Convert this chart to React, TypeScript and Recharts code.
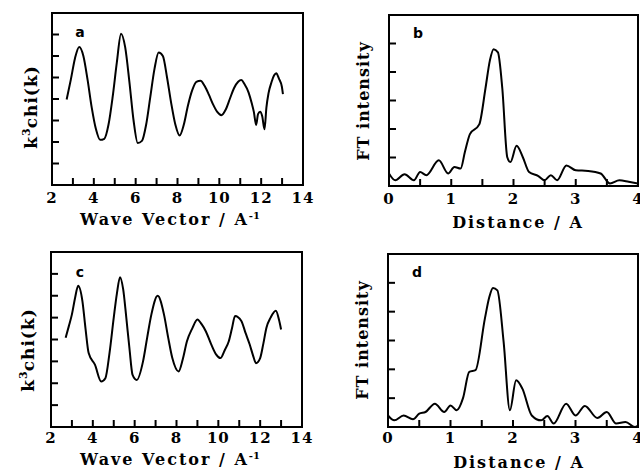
import React from "react";
import { LineChart, Line, XAxis, YAxis, ReferenceArea } from "recharts";

// panel a: k^3 chi(k), experimental
const kA = [2.7, 2.9, 3.1, 3.3, 3.5, 3.7, 3.9, 4.1, 4.3, 4.5, 4.7, 4.9, 5.1, 5.3, 5.5, 5.7, 5.9, 6.1, 6.3, 6.5, 6.7, 6.9, 7.1, 7.3, 7.5, 7.7, 7.9, 8.1, 8.3, 8.5, 8.7, 8.9, 9.1, 9.3, 9.5, 9.7, 9.9, 10.1, 10.3, 10.5, 10.7, 10.9, 11.05, 11.2, 11.4, 11.55, 11.65, 11.76, 11.85, 11.95, 12.05, 12.16, 12.25, 12.35, 12.5, 12.62, 12.72, 12.85, 12.99, 13.04];
const chiA = [3.98, 4.9, 5.9, 6.42, 6.0, 4.9, 3.6, 2.6, 2.1, 2.15, 2.8, 4.1, 5.7, 7.04, 6.4, 4.8, 3.0, 1.95, 2.05, 2.8, 4.1, 5.4, 6.16, 6.0, 5.0, 3.8, 2.8, 2.3, 2.8, 3.7, 4.4, 4.8, 4.85, 4.6, 4.2, 3.75, 3.4, 3.25, 3.5, 4.0, 4.5, 4.8, 4.88, 4.7, 4.3, 3.8, 3.4, 2.79, 3.3, 3.41, 3.2, 2.59, 3.6, 4.26, 4.8, 5.1, 5.2, 4.95, 4.57, 4.23];

// panel c: k^3 chi(k), fit
const kC = [2.7, 2.85, 3.0, 3.15, 3.3, 3.5, 3.65, 3.8, 4.1, 4.4, 4.6, 4.8, 5.0, 5.15, 5.3, 5.45, 5.6, 5.75, 5.9, 6.1, 6.4, 6.6, 6.8, 7.1, 7.4, 7.6, 7.8, 8.1, 8.3, 8.5, 8.75, 9.0, 9.2, 9.4, 9.65, 9.9, 10.1, 10.3, 10.5, 10.65, 10.8, 11.1, 11.3, 11.5, 11.65, 11.8, 12.0, 12.15, 12.3, 12.5, 12.75, 12.9, 13.0];
const chiC = [4.08, 4.6, 5.15, 5.9, 6.46, 5.77, 4.5, 3.38, 2.85, 2.08, 2.23, 3.4, 5.0, 6.1, 6.85, 6.3, 5.0, 3.6, 2.38, 2.15, 3.0, 4.1, 5.15, 6.0, 5.15, 4.1, 3.15, 2.54, 3.1, 3.92, 4.5, 4.92, 4.7, 4.38, 3.8, 3.31, 3.15, 3.5, 3.92, 4.5, 5.08, 4.85, 4.3, 3.77, 3.3, 2.92, 3.15, 3.8, 4.54, 5.0, 5.31, 4.9, 4.46];

// panel b: FT intensity, experimental
const rB = [0, 0.1, 0.25, 0.4, 0.5, 0.6, 0.8, 0.95, 1.05, 1.15, 1.22, 1.3, 1.45, 1.55, 1.62, 1.68, 1.75, 1.82, 1.9, 1.95, 2.05, 2.15, 2.25, 2.4, 2.5, 2.6, 2.7, 2.85, 3.0, 3.2, 3.4, 3.55, 3.7, 3.85, 4.0];
const ftB = [0.44, 0.2, 0.41, 0.2, 0.49, 0.38, 0.9, 0.44, 0.67, 0.61, 1.2, 1.82, 2.16, 3.43, 4.4, 4.8, 4.69, 3.43, 1.01, 0.84, 1.41, 1.01, 0.49, 0.35, 0.2, 0.38, 0.2, 0.72, 0.55, 0.53, 0.44, 0.09, 0.2, 0.15, 0.09];

// panel d: FT intensity, fit
const rD = [0, 0.1, 0.25, 0.4, 0.5, 0.6, 0.75, 0.9, 1.0, 1.1, 1.2, 1.3, 1.4, 1.55, 1.62, 1.68, 1.75, 1.85, 1.95, 2.05, 2.15, 2.3, 2.45, 2.55, 2.65, 2.85, 3.0, 3.15, 3.35, 3.5, 3.65, 3.8, 3.95, 4.0];
const ftD = [0.4, 0.23, 0.4, 0.27, 0.46, 0.52, 0.81, 0.52, 0.75, 0.58, 1.0, 1.91, 1.97, 3.76, 4.5, 4.82, 4.74, 2.95, 0.58, 1.62, 1.33, 0.4, 0.23, 0.38, 0.12, 0.81, 0.4, 0.73, 0.31, 0.52, 0.12, 0.17, 0.0, 0.05];

const kTicks = [2, 3, 4, 5, 6, 7, 8, 9, 10, 11, 12, 13, 14];
const rTicks = [0, 0.5, 1, 1.5, 2, 2.5, 3, 3.5, 4];
const chiTicks = [0, 1, 2, 3, 4, 5, 6, 7, 8];
const ftTicks = [0, 1, 2, 3, 4, 5, 6];

const FONT = "'DejaVu Serif', serif";
const AX_H = 30; // bottom axis band
const AX_W = 5; // left axis band
const INK = "#000";

type PanelProps = {
  xs: number[];
  ys: number[];
  left: number;
  top: number;
  width: number;
  height: number;
  plot: { top: number; right: number; bottom: number; left: number };
  xDomain: [number, number];
  xTicks: number[];
  yDomain: [number, number];
  yTicks: number[];
  labelEvery: (v: number) => boolean;
  tickGap: number;
};

// inward tick mark + label below the axis
function XTick(props: any) {
  const { x, y, payload, gap, show, ends } = props;
  const v = payload.value;
  const axisY = y - gap;
  const isEnd = v === ends[0] || v === ends[1];
  return (
    <g>
      {!isEnd && <line x1={x} x2={x} y1={axisY} y2={axisY - 7} stroke={INK} strokeWidth={2} />}
      {show(v) && (
        <text x={x} y={y} dy="0.71em" textAnchor="middle" fill={INK}
          style={{ fontFamily: FONT, fontWeight: 700, fontSize: 15, letterSpacing: 1 }}>
          {v}
        </text>
      )}
    </g>
  );
}

function YTick(props: any) {
  const { x, y, payload, ends } = props;
  const v = payload.value;
  if (v === ends[0] || v === ends[1]) return <g />;
  return <line x1={x} x2={x + 7} y1={y} y2={y} stroke={INK} strokeWidth={2} />;
}

function Panel(p: PanelProps) {
  const data = p.xs.map((x, i) => ({ x, y: p.ys[i] }));
  const margin = {
    top: p.plot.top,
    right: p.plot.right,
    bottom: p.plot.bottom - AX_H,
    left: p.plot.left - AX_W,
  };
  return (
    <div style={{ position: "absolute", left: p.left, top: p.top }}>
      <LineChart width={p.width} height={p.height} data={data} margin={margin}>
        <XAxis
          dataKey="x"
          type="number"
          domain={p.xDomain}
          ticks={p.xTicks}
          height={AX_H}
          stroke={INK}
          strokeWidth={2}
          tickSize={0}
          tickLine={false}
          tickMargin={p.tickGap}
          interval={0}
          tick={<XTick gap={p.tickGap} show={p.labelEvery} ends={p.xDomain} />}
          allowDataOverflow
        />
        <YAxis
          type="number"
          domain={p.yDomain}
          ticks={p.yTicks}
          width={AX_W}
          tickSize={0}
          tickMargin={0}
          tickLine={false}
          interval={0}
          tick={<YTick ends={p.yDomain} />}
          stroke={INK}
          strokeWidth={2}
          allowDataOverflow
        />
        <ReferenceArea
          x1={p.xDomain[0]}
          x2={p.xDomain[1]}
          y1={p.yDomain[0]}
          y2={p.yDomain[1]}
          fill="none"
          fillOpacity={0}
          stroke={INK}
          strokeWidth={2}
          ifOverflow="visible"
        />
        <Line
          dataKey="y"
          type="monotone"
          stroke={INK}
          strokeWidth={2}
          dot={false}
          isAnimationActive={false}
        />
      </LineChart>
    </div>
  );
}

const textBase: React.CSSProperties = {
  position: "absolute",
  fontFamily: FONT,
  fontWeight: 700,
  color: INK,
  whiteSpace: "nowrap",
  letterSpacing: 2,
};

function HTitle({ x, y, children }: { x: number; y: number; children: React.ReactNode }) {
  return (
    <div style={{ ...textBase, left: x, top: y, fontSize: 16, transform: "translate(-50%, -50%)" }}>
      {children}
    </div>
  );
}

function VTitle({ x, y, size = 16, children }: { x: number; y: number; size?: number; children: React.ReactNode }) {
  return (
    <div style={{ ...textBase, left: x, top: y, fontSize: size, letterSpacing: 1, transform: "translate(-50%, -50%) rotate(-90deg)" }}>
      {children}
    </div>
  );
}

function Letter({ x, y, children }: { x: number; y: number; children: React.ReactNode }) {
  return (
    <div style={{ ...textBase, left: x, top: y, fontSize: 14, letterSpacing: 0, fontFamily: "'DejaVu Sans', sans-serif", transform: "translate(-50%, -50%)" }}>
      {children}
    </div>
  );
}

const even = (v: number) => v % 2 === 0;
const whole = (v: number) => Number.isInteger(v);

export default function App() {
  const kTitle = (
    <span>
      Wave Vector / A<sup style={{ fontSize: 10, letterSpacing: 0 }}>-1</sup>
    </span>
  );
  const chiTitle = (
    <span>
      k<sup style={{ fontSize: 11, letterSpacing: 0 }}>3</sup>chi(k)
    </span>
  );
  return (
    <div style={{ position: "absolute", left: 0, top: 0, width: 640, height: 471, background: "#fff", overflow: "hidden" }}>
      <Panel xs={kA} ys={chiA} left={0} top={0} width={320} height={235}
        plot={{ top: 13, right: 17, bottom: 50, left: 52 }}
        xDomain={[2, 14]} xTicks={kTicks} yDomain={[0, 8]} yTicks={chiTicks} labelEvery={even} tickGap={7} />
      <Panel xs={rB} ys={ftB} left={320} top={0} width={320} height={235}
        plot={{ top: 15, right: 2, bottom: 49, left: 69 }}
        xDomain={[0, 4]} xTicks={rTicks} yDomain={[0, 6]} yTicks={ftTicks} labelEvery={whole} tickGap={7} />
      <Panel xs={kC} ys={chiC} left={0} top={235} width={320} height={236}
        plot={{ top: 17, right: 18, bottom: 44, left: 51 }}
        xDomain={[2, 14]} xTicks={kTicks} yDomain={[0, 8]} yTicks={chiTicks} labelEvery={even} tickGap={5} />
      <Panel xs={rD} ys={ftD} left={320} top={235} width={320} height={236}
        plot={{ top: 19, right: 2, bottom: 44, left: 68 }}
        xDomain={[0, 4]} xTicks={rTicks} yDomain={[0, 6]} yTicks={ftTicks} labelEvery={whole} tickGap={5} />

      <HTitle x={170} y={220}>{kTitle}</HTitle>
      <HTitle x={170} y={460}>{kTitle}</HTitle>
      <HTitle x={518} y={222}>Distance / A</HTitle>
      <HTitle x={519} y={462}>Distance / A</HTitle>

      <VTitle x={30} y={107} size={17}>{chiTitle}</VTitle>
      <VTitle x={27} y={350} size={17}>{chiTitle}</VTitle>
      <VTitle x={363} y={101}>FT intensity</VTitle>
      <VTitle x={362} y={340}>FT intensity</VTitle>

      <Letter x={80} y={32}>a</Letter>
      <Letter x={418} y={33}>b</Letter>
      <Letter x={80} y={272}>c</Letter>
      <Letter x={417} y={272}>d</Letter>
    </div>
  );
}
